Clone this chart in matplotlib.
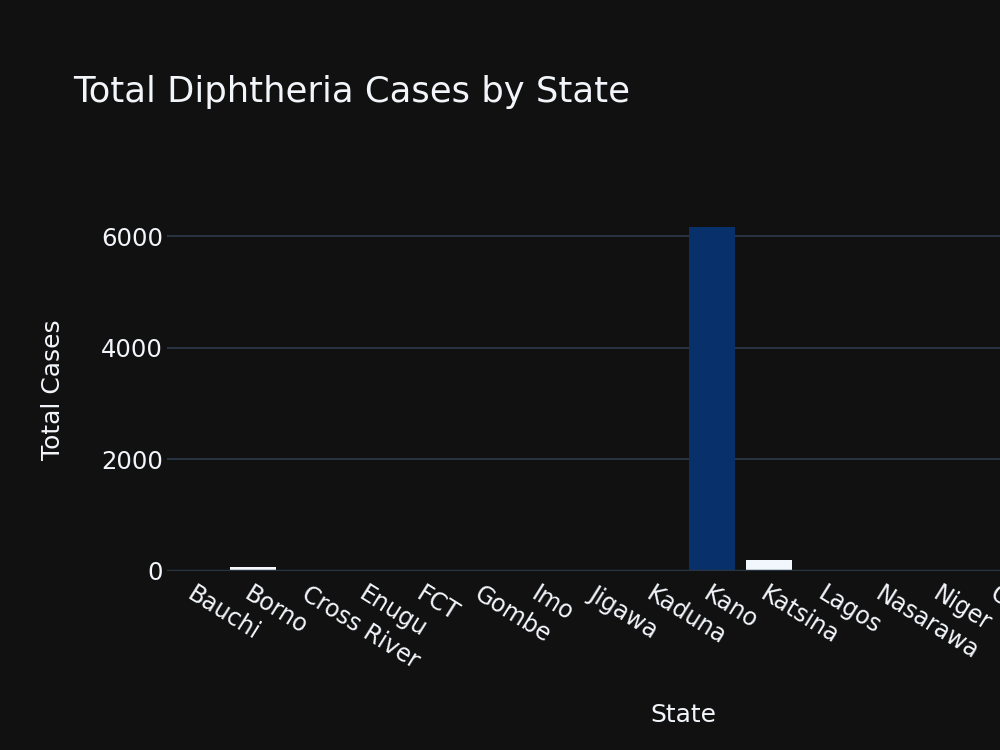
import matplotlib
matplotlib.use("Agg")
import matplotlib.pyplot as plt
from matplotlib.colors import Normalize
import numpy as np

states = ["Bauchi", "Borno", "Cross River", "Enugu", "FCT", "Gombe", "Imo",
          "Jigawa", "Kaduna", "Kano", "Katsina", "Lagos", "Nasarawa", "Niger",
          "Ogun", "Osun", "Plateau", "Yobe"]
cases = [8, 80, 2, 2, 4, 3, 1, 9, 7, 6170, 205, 4, 2, 2, 1, 4, 3, 9]
y_ticks = [0, 2000, 4000, 6000]

BG = "#111111"
TXT = "#f2f5fa"
GRID = "#283442"
plt.rcParams['font.family'] = ['DejaVu Sans']

fig = plt.figure(figsize=(10, 7.5), dpi=100, facecolor=BG)
ax = fig.add_axes([0.167, 0.2387, 1.032, 0.4827], facecolor=BG)

norm = Normalize(vmin=min(cases), vmax=max(cases))
colors = plt.cm.Blues(norm(np.array(cases)))
x = np.arange(len(states))
ax.bar(x, cases, width=0.8, color=colors, zorder=3)

ax.set_xlim(-0.5, len(states) - 0.5)
ax.set_ylim(0, 6485)
ax.set_yticks(y_ticks)
ax.set_yticklabels([str(v) for v in y_ticks], color=TXT, fontsize=17.5)
ax.set_xticks(x)
ax.set_xticklabels(states, rotation=-32, ha='left', va='top',
                   rotation_mode='anchor', color=TXT, fontsize=17)
ax.tick_params(axis='both', length=0)
ax.tick_params(axis='x', pad=8)
ax.tick_params(axis='y', pad=3)
for s in ax.spines.values():
    s.set_visible(False)
ax.grid(axis='y', color=GRID, linewidth=1.4, zorder=0)
ax.axhline(0, color=GRID, linewidth=2.5, zorder=4)

fig.text(0.073, 1 - 102/750, "Total Diphtheria Cases by State", color=TXT,
         fontsize=25.5, ha='left', va='baseline')
fig.text(0.053, 1 - 390/750, "Total Cases", color=TXT, fontsize=18,
         rotation=90, ha='center', va='center')
fig.text(0.683, 1 - 715/750, "State", color=TXT, fontsize=18,
         ha='center', va='center')

fig.savefig("out.png", dpi=100, facecolor=BG)
